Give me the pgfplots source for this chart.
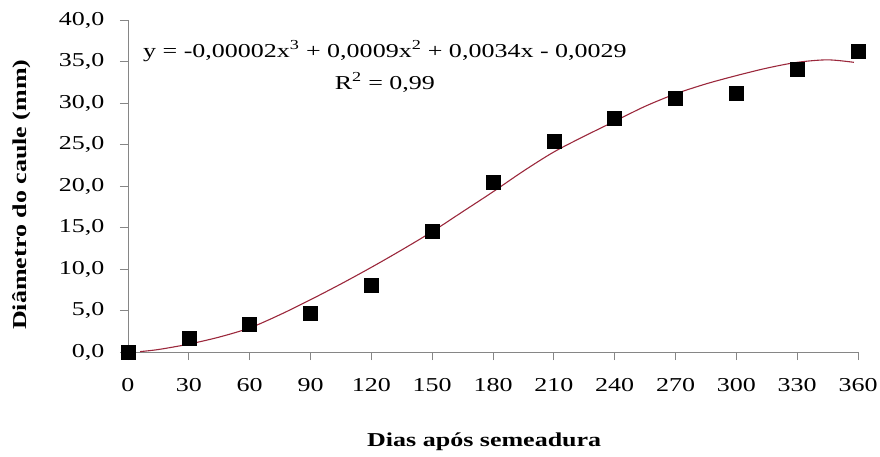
\documentclass[border=0pt]{standalone}
\usepackage{fontspec}
\setmainfont[FakeStretch=1.32]{Liberation Serif}
\usepackage{pgfplots}
\pgfplotsset{compat=1.18}
\definecolor{axgray}{RGB}{134,134,134}
\definecolor{trend}{RGB}{155,40,60}
\begin{document}
\begin{tikzpicture}
\path[use as bounding box] (0,0) rectangle (880pt,456pt);
\begin{axis}[
  at={(128pt,104pt)}, anchor=south west,
  scale only axis, width=730pt, height=332pt,
  xmin=0, xmax=360, ymin=0, ymax=40,
  xtick={0,30,...,360}, ytick={0,5,...,40},
  axis x line*=bottom, axis y line*=left,
  axis line style={axgray, line width=0.8pt, -},
  tick style={axgray, line width=0.8pt},
  tick align=outside, major tick length=8pt,
  /pgf/number format/assume math mode=true,
  yticklabel style={xshift=-12pt, /pgf/number format/.cd, fixed, fixed zerofill, precision=1, use comma},
  xticklabel style={yshift=-15pt, /pgf/number format/.cd, fixed, precision=0},
  tick label style={font=\fontsize{19.7}{23}\selectfont, black},
  every axis y label/.style={at={(axis description cs:-0.145,0.474)}, rotate=90, anchor=center},
  every axis x label/.style={at={(axis description cs:0.488,-0.286)}, anchor=base},
  label style={font=\fontsize{19.7}{23}\selectfont\bfseries},
  ylabel={Diâmetro do caule (mm)},
  xlabel={Dias após semeadura},
  clip=false,
]
\addplot[trend, line width=1.1pt, smooth, no marks] coordinates {
(6,0.05) (15,0.3) (30,0.95) (45,1.8) (60,2.9) (75,4.5) (90,6.3) (105,8.2)
(120,10.2) (135,12.3) (150,14.5) (165,16.9) (180,19.3) (195,21.8) (210,24.1)
(225,26.0) (240,27.8) (255,29.6) (270,31.1) (285,32.3) (300,33.3) (315,34.2)
(330,34.9) (345,35.2) (358,34.9)};
\addplot[only marks, mark=square*, mark size=7pt, black] coordinates {
(0,0) (30,1.65) (60,3.3) (90,4.7) (120,8.1) (150,14.6) (180,20.5)
(210,25.4) (240,28.2) (270,30.6) (300,31.2) (330,34.1) (360,36.3)};
\node[align=center, font=\fontsize{19.7}{32}\selectfont] at (axis cs:126.7,34.4)
  {y = -0,00002x\textsuperscript{3} + 0,0009x\textsuperscript{2} + 0,0034x - 0,0029\\ R\textsuperscript{2} = 0,99};
\end{axis}
\end{tikzpicture}
\end{document}
